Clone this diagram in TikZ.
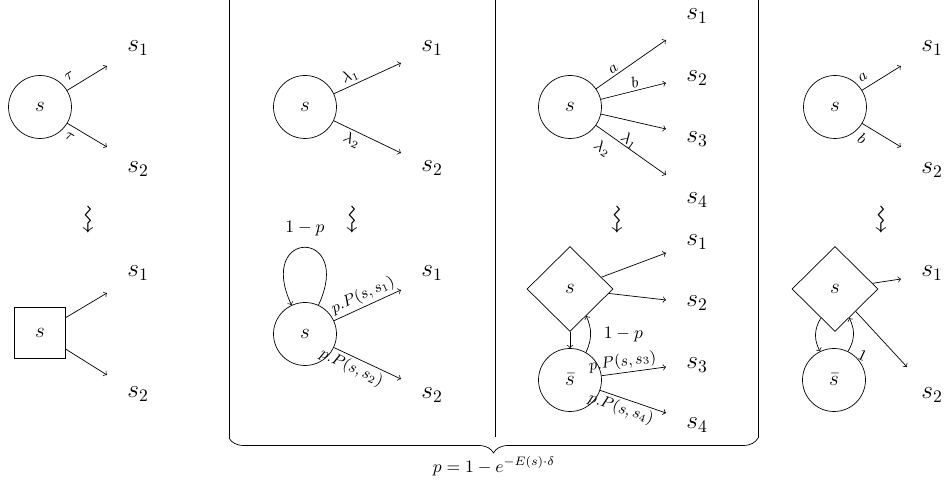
\documentclass[tikz,border=0pt]{standalone}
\usepackage{amsmath, amssymb}
\usepackage{tikz}
\usetikzlibrary{positioning, shapes.geometric, decorations.pathreplacing}

\begin{document}
\begin{tikzpicture}[x=0.02cm, y=0.02cm,
    state/.style={circle, draw, minimum size=1.26cm, inner sep=0pt, font=\large},
    boxstate/.style={rectangle, draw, minimum size=1.02cm, inner sep=0pt, font=\large},
    diastate/.style={diamond, draw, minimum width=1.72cm, minimum height=1.7cm, inner sep=0pt, font=\large},
    target/.style={font=\Large},
    lbl/.style={font=\small, sloped, inner sep=1.5pt},
    leads/.style={rotate=-90, font=\LARGE, inner sep=0pt}]
\useasboundingbox (0,0) rectangle (944,486);

% Frame and brace
\draw (229,486) -- (229,48);
\draw (495,486) -- (495,49);
\draw (758,486) -- (758,48);
\draw[decorate, decoration={brace, mirror, amplitude=0.3cm}] (229,48) -- (758,48);
\node (pfml) at (494,20) {$p = 1 - e^{-E(s)\cdot\delta}$};

% Panel 1: tau steps
\node[state] (t0) at (40,379) {$s$};
\node[target] (t1) at (138,438) {$s_1$};
\node[target] (t2) at (138,317) {$s_2$};
\coordinate (te1) at (107,420);
\coordinate (te2) at (107,339);
\draw[->] (t0) -- node[lbl, above, pos=0.2, inner sep=4pt] {$\tau$} (te1);
\draw[->] (t0) -- node[lbl, below, pos=0.2, inner sep=4pt] {$\tau$} (te2);
\node[leads] (w1) at (86,266) {$\leadsto$};

\node[boxstate] (u0) at (40,153) {$s$};
\node[target] (u1) at (138,213) {$s_1$};
\node[target] (u2) at (138,92) {$s_2$};
\coordinate (ue1) at (107,193);
\coordinate (ue2) at (107,111);
\draw[->] (u0) -- (ue1);
\draw[->] (u0) -- (ue2);

% Panel 2: rates
\node[state] (c0) at (305,379) {$s$};
\node[target] (c1) at (432,438) {$s_1$};
\node[target] (c2) at (432,318) {$s_2$};
\coordinate (ce1) at (401,423);
\coordinate (ce2) at (401,333);
\draw[->] (c0) -- node[lbl, above, pos=0.3] {$\lambda_1$} (ce1);
\draw[->] (c0) -- node[lbl, below, pos=0.33] {$\lambda_2$} (ce2);
\node[leads] (w2) at (350,266) {$\leadsto$};

\node[state] (n0) at (305,152) {$s$};
\node[target] (n1) at (432,213) {$s_1$};
\node[target] (n2) at (432,91) {$s_2$};
\coordinate (ne1) at (401,196);
\coordinate (ne2) at (401,107);
\draw[->] (n0) to[out=65, in=115, min distance=1.7cm] node[above=3pt] {$1-p$} (n0);
\draw[->] (n0) -- node[lbl, above, pos=0.5] {$p.P(s,s_1)$} (ne1);
\draw[->] (n0) -- node[lbl, below, pos=0.33] {$p.P(s,s_2)$} (ne2);

% Panel 3: mixed
\node[state] (m0) at (570,379) {$s$};
\foreach \i/\ty/\ey in {1/470/446, 2/408/403, 3/347/357, 4/286/311} {
    \node[target] (m\i) at (697,\ty) {$s_{\i}$};
    \coordinate (me\i) at (666,\ey);
}
\draw[->] (m0) -- node[lbl, above, pos=0.3] {$a$} (me1);
\draw[->] (m0) -- node[lbl, above, pos=0.55] {$b$} (me2);
\draw[->] (m0) -- (me3);
\draw[->] (m0) -- node[lbl, above, pos=0.42, inner sep=0pt] {$\lambda_1$}
                  node[lbl, below, pos=0.22, inner sep=5pt] {$\lambda_2$} (me4);
\node[leads] (w3) at (615,266) {$\leadsto$};

\node[diastate] (q0) at (570,197) {$s$};
\node[state] (q5) at (570,106) {$\bar{s}$};
\foreach \i/\ty/\ey in {1/244/233, 2/183/186, 3/121/119, 4/61/73} {
    \node[target] (q\i) at (697,\ty) {$s_{\i}$};
    \coordinate (qe\i) at (666,\ey);
}
\draw[->] (q0) -- (qe1);
\draw[->] (q0) -- (qe2);
\draw[->] (q0) -- (q5);
\draw[->] (q5.60) to[bend right=25] node[right=4pt] {$1-p$} (q0.-59);
\draw[->] (q5) -- node[lbl, above, pos=0.35] {$p.P(s,s_3)$} (qe3);
\draw[->] (q5) -- node[lbl, below, pos=0.37] {$p.P(s,s_4)$} (qe4);

% Panel 4: actions
\node[state] (k0) at (835,379) {$s$};
\node[target] (k1) at (932,438) {$s_1$};
\node[target] (k2) at (932,316) {$s_2$};
\coordinate (ke1) at (901,420);
\coordinate (ke2) at (901,339);
\draw[->] (k0) -- node[lbl, above, pos=0.17, inner sep=4pt] {$a$} (ke1);
\draw[->] (k0) -- node[lbl, below, pos=0.17, inner sep=4pt] {$b$} (ke2);
\node[leads] (w4) at (879,266) {$\leadsto$};

\node[diastate] (r0) at (835,197) {$s$};
\node[state] (r5) at (834,106) {$\bar{s}$};
\node[target] (r1) at (932,213) {$s_1$};
\node[target] (r2) at (932,91) {$s_2$};
\coordinate (re1) at (901,207);
\coordinate (re2) at (907,119);
\draw[->] (r0) -- (re1);
\draw[->] (r0) -- (re2);
\draw[->] (r0.-116) to[bend right=30] (r5.116);
\draw[->] (r5.64) to[bend right=30] node[pos=0, right=3pt, rotate=-25, font=\small] {$1$} (r0.-64);
\end{tikzpicture}
\end{document}
